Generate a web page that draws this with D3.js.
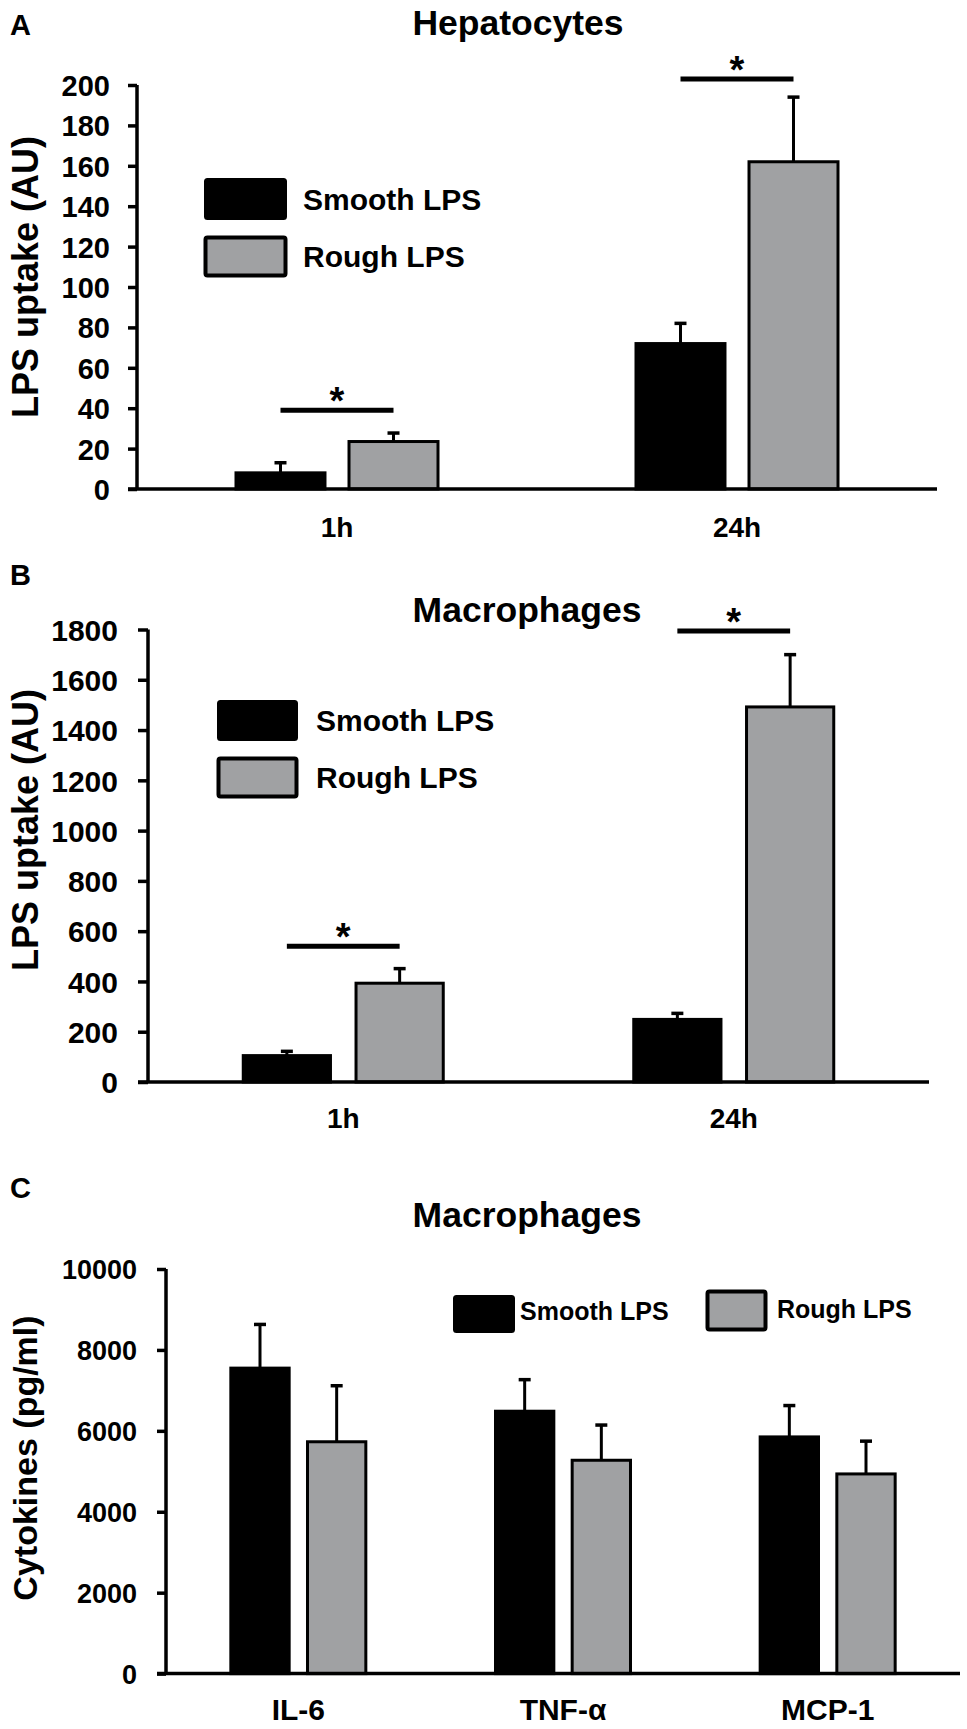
<!DOCTYPE html>
<html>
<head>
<meta charset="utf-8">
<script src="https://cdn.jsdelivr.net/npm/d3@7"></script>
<style>
  body { margin: 0; background: #fff; }
  text { font-family: "Liberation Sans", Arial, sans-serif; font-weight: bold; fill: #000; }
</style>
</head>
<body>
<div class="figure"></div>
<script>
// series shared by all three panels
const seriesNames = ["Smooth LPS", "Rough LPS"];
const seriesFill = ["#000000", "#a0a1a3"];

// A: hepatocytes LPS uptake
const hepGroups = ["1h", "24h"];
const hepSmooth = [8, 72];
const hepSmoothErr = [5, 10];
const hepRough = [23.5, 162];
const hepRoughErr = [4.2, 32];
const hepTicks = [0, 20, 40, 60, 80, 100, 120, 140, 160, 180, 200];
const hepSig = [39, 203];

// B: macrophages LPS uptake
const macGroups = ["1h", "24h"];
const macSmooth = [105, 249];
const macSmoothErr = [17, 24];
const macRough = [393, 1492];
const macRoughErr = [58, 208];
const macTicks = [0, 200, 400, 600, 800, 1000, 1200, 1400, 1600, 1800];
const macSig = [540, 1794];

// C: macrophage cytokines
const cytoGroups = ["IL-6", "TNF-α", "MCP-1"];
const cytoSmooth = [7550, 6485, 5850];
const cytoSmoothErr = [1080, 780, 775];
const cytoRough = [5730, 5273, 4935];
const cytoRoughErr = [1385, 870, 810];
const cytoTicks = [0, 2000, 4000, 6000, 8000, 10000];

const svg = d3.select(".figure").append("svg")
  .attr("width", 967)
  .attr("height", 1729);

function panel(p) {
  const g = svg.append("g");

  // panel letter + title
  g.append("text").attr("x", 10).attr("y", p.letterY)
    .attr("font-size", 29).text(p.letter);
  g.append("text").attr("x", p.titleX).attr("y", p.titleY)
    .attr("text-anchor", "middle").attr("font-size", 35.5).text(p.title);

  let y = d3.scaleLinear().domain([0, p.yMax]).range([p.y0, p.yTop]);
  let x = d3.scaleBand().domain(p.groups).range([p.axisX, p.xEnd]);
  let x1 = d3.scaleBand().domain(seriesNames)
    .range([-p.pairW / 2, p.pairW / 2]).paddingInner(p.innerPad);

  const rows = [];
  p.groups.forEach((grp, i) => {
    rows.push({ grp: grp, s: 0, v: p.smooth[i], e: p.smoothErr[i] });
    rows.push({ grp: grp, s: 1, v: p.rough[i], e: p.roughErr[i] });
  });
  const cx = (d) => x(d.grp) + x.bandwidth() / 2 + x1(seriesNames[d.s]) + x1.bandwidth() / 2;

  // error bars (upper only)
  g.selectAll(".err").data(rows).enter().append("line")
    .attr("x1", cx).attr("x2", cx)
    .attr("y1", (d) => y(d.v)).attr("y2", (d) => y(d.v + d.e))
    .attr("stroke", "#000").attr("stroke-width", 3);
  g.selectAll(".cap").data(rows).enter().append("line")
    .attr("x1", (d) => cx(d) - 6).attr("x2", (d) => cx(d) + 6)
    .attr("y1", (d) => y(d.v + d.e)).attr("y2", (d) => y(d.v + d.e))
    .attr("stroke", "#000").attr("stroke-width", 3.5);

  // bars
  g.selectAll(".bar").data(rows).enter().append("rect")
    .attr("x", (d) => cx(d) - x1.bandwidth() / 2 + 1.5)
    .attr("width", x1.bandwidth() - 3)
    .attr("y", (d) => y(d.v))
    .attr("height", (d) => y(0) - y(d.v))
    .attr("fill", (d) => seriesFill[d.s])
    .attr("stroke", "#000").attr("stroke-width", 3);

  // axes
  const yAxis = d3.axisLeft(y).tickValues(p.ticks).tickFormat(d3.format("d"))
    .tickSize(p.tickLen).tickPadding(p.tickPad);
  const yg = g.append("g").attr("transform", "translate(" + p.axisX + ",0)").call(yAxis);
  yg.select(".domain").attr("stroke-width", 3.5).attr("d", "M0," + p.yTop + "V" + p.y0);
  yg.selectAll(".tick line").attr("stroke-width", 3.5);
  yg.selectAll(".tick text").attr("font-size", p.tickFont).attr("font-family", null)
    .attr("dy", "0.36em");

  g.append("line")
    .attr("x1", p.axisX - p.tickLen).attr("x2", p.xEnd)
    .attr("y1", y(0)).attr("y2", y(0))
    .attr("stroke", "#000").attr("stroke-width", 3.5);

  g.selectAll(".xlab").data(p.groups).enter().append("text")
    .attr("x", (d) => x(d) + x.bandwidth() / 2)
    .attr("y", p.xLabY).attr("text-anchor", "middle")
    .attr("font-size", p.xLabFont).text((d) => d);

  g.append("text")
    .attr("transform", "translate(" + p.yLabX + "," + p.yLabY + ") rotate(-90)")
    .attr("text-anchor", "middle").attr("font-size", p.yLabFont).text(p.yLabel);

  // significance bars
  if (p.sig) {
    p.sig.forEach((v, i) => {
      const grp = p.groups[i];
      const a = cx({ grp: grp, s: 0 }), b = cx({ grp: grp, s: 1 });
      g.append("line").attr("x1", a).attr("x2", b)
        .attr("y1", y(v)).attr("y2", y(v))
        .attr("stroke", "#000").attr("stroke-width", 5);
      g.append("text").attr("x", (a + b) / 2).attr("y", y(v) + 4)
        .attr("text-anchor", "middle").attr("font-size", 38).text("*");
    });
  }

  // legend
  p.legend.forEach((l, i) => {
    g.append("rect").attr("x", l.x + 1.5).attr("y", l.y + 1.5)
      .attr("width", l.w - 3).attr("height", l.h - 3).attr("rx", 2)
      .attr("fill", seriesFill[i]).attr("stroke", "#000").attr("stroke-width", i ? 4 : 3);
    g.append("text").attr("x", l.tx).attr("y", l.ty)
      .attr("font-size", p.legFont).text(seriesNames[i]);
  });
}

panel({
  letter: "A", letterY: 35, title: "Hepatocytes", titleX: 518, titleY: 35,
  groups: hepGroups, smooth: hepSmooth, smoothErr: hepSmoothErr,
  rough: hepRough, roughErr: hepRoughErr, ticks: hepTicks, sig: hepSig,
  yMax: 200, y0: 489, yTop: 85, axisX: 137, xEnd: 937,
  pairW: 205, innerPad: 0.186, tickLen: 9, tickPad: 18, tickFont: 29,
  xLabY: 537, xLabFont: 28,
  yLabel: "LPS uptake (AU)", yLabX: 38, yLabY: 277, yLabFont: 36,
  legFont: 30,
  legend: [{ x: 204, y: 178, w: 83, h: 42, tx: 303, ty: 210 },
           { x: 204, y: 236, w: 83, h: 41, tx: 303, ty: 267 }]
});

panel({
  letter: "B", letterY: 585, title: "Macrophages", titleX: 527, titleY: 622,
  groups: macGroups, smooth: macSmooth, smoothErr: macSmoothErr,
  rough: macRough, roughErr: macRoughErr, ticks: macTicks, sig: macSig,
  yMax: 1800, y0: 1082, yTop: 629.5, axisX: 148, xEnd: 929,
  pairW: 203, innerPad: 0.2, tickLen: 10, tickPad: 20, tickFont: 30,
  xLabY: 1128, xLabFont: 28,
  yLabel: "LPS uptake (AU)", yLabX: 38, yLabY: 830, yLabFont: 36,
  legFont: 30,
  legend: [{ x: 217, y: 700, w: 81, h: 41, tx: 316, ty: 731 },
           { x: 217, y: 757, w: 81, h: 41, tx: 316, ty: 788 }]
});

panel({
  letter: "C", letterY: 1198, title: "Macrophages", titleX: 527, titleY: 1227,
  groups: cytoGroups, smooth: cytoSmooth, smoothErr: cytoSmoothErr,
  rough: cytoRough, roughErr: cytoRoughErr, ticks: cytoTicks, sig: null,
  yMax: 10000, y0: 1673.6, yTop: 1269, axisX: 166, xEnd: 960,
  pairW: 138, innerPad: 0.2, tickLen: 9, tickPad: 20, tickFont: 27,
  xLabY: 1720, xLabFont: 30,
  yLabel: "Cytokines (pg/ml)", yLabX: 37, yLabY: 1458, yLabFont: 34,
  legFont: 25,
  legend: [{ x: 453, y: 1295, w: 62, h: 38, tx: 520, ty: 1320 },
           { x: 706, y: 1290, w: 61, h: 41, tx: 777, ty: 1318 }]
});
</script>
</body>
</html>
